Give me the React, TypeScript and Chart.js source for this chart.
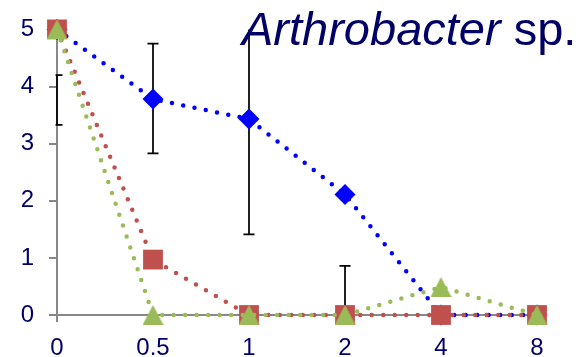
import React, { useEffect, useRef } from 'react';
import { Chart, registerables } from 'chart.js';

Chart.register(...registerables);

const categories = ['0', '0.5', '1', '2', '4', '8'];
const blueValues = [5, 3.78, 3.43, 2.11, 0, 0];
const redValues = [5, 0.97, 0, 0, 0, 0];
const greenValues = [5, 0, 0, 0, 0.49, 0];
const errLow: (number | null)[] = [3.33, 2.83, 1.41, 0, null, null];
const errHigh: (number | null)[] = [4.2, 4.75, 5.45, 0.86, null, null];
const titleItalic = 'Arthrobacter';
const titleRest = ' sp.';

const NAVY = '#000066';
const AXIS = '#888888';
const FONT = '"Liberation Sans", Arial, sans-serif';

function makeTriangle(w: number, h: number, color: string) {
  const c = document.createElement('canvas');
  c.width = w;
  c.height = h;
  const g = c.getContext('2d')!;
  g.fillStyle = color;
  g.beginPath();
  g.moveTo(w / 2, 0);
  g.lineTo(w, h);
  g.lineTo(0, h);
  g.closePath();
  g.fill();
  return c;
}

const errorBarPlugin = {
  id: 'errorBars',
  beforeDatasetsDraw(chart: any) {
    const { ctx, chartArea, scales } = chart;
    const x = scales.x;
    const y = scales.y;
    ctx.save();
    ctx.beginPath();
    ctx.rect(chartArea.left - 1.5, chartArea.top, chartArea.right - chartArea.left + 3, chartArea.bottom - chartArea.top);
    ctx.clip();
    ctx.strokeStyle = '#000000';
    ctx.lineWidth = 1.75;
    errLow.forEach((lo, i) => {
      const hi = errHigh[i];
      if (lo == null || hi == null) return;
      const px = x.getPixelForValue(i);
      const y1 = y.getPixelForValue(lo);
      const y2 = y.getPixelForValue(hi);
      ctx.beginPath();
      ctx.moveTo(px, y1);
      ctx.lineTo(px, y2);
      ctx.moveTo(px - 5.5, y1);
      ctx.lineTo(px + 5.5, y1);
      ctx.moveTo(px - 5.5, y2);
      ctx.lineTo(px + 5.5, y2);
      ctx.stroke();
    });
    ctx.restore();
  },
};

const titlePlugin = {
  id: 'customTitle',
  afterDraw(chart: any) {
    const ctx = chart.ctx;
    ctx.save();
    ctx.fillStyle = NAVY;
    ctx.textBaseline = 'alphabetic';
    ctx.textAlign = 'left';
    ctx.font = `italic 47px ${FONT}`;
    const x0 = 242;
    const base = 45;
    ctx.fillText(titleItalic, x0, base);
    const w = ctx.measureText(titleItalic).width;
    ctx.font = `47px ${FONT}`;
    ctx.fillText(titleRest, x0 + w, base);
    ctx.restore();
  },
};

export default function App() {
  const ref = useRef<HTMLCanvasElement>(null);

  useEffect(() => {
    document.body.style.margin = '0';
    if (!ref.current) return;
    const tri = makeTriangle(21, 20, '#9BBB59');
    const chart = new Chart(ref.current, {
      type: 'line',
      data: {
        labels: categories,
        datasets: [
          {
            label: 'blue',
            data: blueValues,
            order: 3,
            borderColor: '#0000FF',
            backgroundColor: '#0000FF',
            borderWidth: 4.5,
            borderDash: [0, 11.5],
            borderCapStyle: 'round',
            tension: 0,
            fill: false,
            pointStyle: 'rectRot',
            pointRadius: 10.5,
            pointBorderWidth: 0,
            pointBackgroundColor: '#0000FF',
            clip: false as any,
          },
          {
            label: 'red',
            data: redValues,
            order: 2,
            borderColor: '#C0504D',
            backgroundColor: '#C0504D',
            borderWidth: 4.5,
            borderDash: [0, 11.5],
            borderCapStyle: 'round',
            tension: 0,
            fill: false,
            pointStyle: 'rect',
            pointRadius: 14,
            pointBorderWidth: 0,
            pointBackgroundColor: '#C0504D',
            clip: false as any,
          },
          {
            label: 'green',
            data: greenValues,
            order: 1,
            borderColor: '#9BBB59',
            backgroundColor: '#9BBB59',
            borderWidth: 4.5,
            borderDash: [0, 11.5],
            borderCapStyle: 'round',
            tension: 0,
            fill: false,
            pointStyle: tri as any,
            pointRadius: 10,
            pointBorderWidth: 0,
            clip: false as any,
          },
        ],
      },
      options: {
        responsive: false,
        animation: false,
        layout: { padding: { top: 27, right: 47, left: 0, bottom: 0 } },
        plugins: {
          legend: { display: false },
          tooltip: { enabled: false },
          title: { display: false },
        },
        scales: {
          x: {
            type: 'category',
            offset: false,
            grid: {
              drawOnChartArea: false,
              drawTicks: true,
              tickLength: 7,
              lineWidth: 2,
              color: (c: any) => (c.index === 0 ? AXIS : 'rgba(0,0,0,0)'),
            },
            border: { display: true, color: AXIS, width: 2 },
            ticks: {
              color: NAVY,
              font: { size: 24, family: FONT },
              padding: 12,
              maxRotation: 0,
              autoSkip: false,
            },
            afterFit: (s: any) => {
              s.height = 42;
            },
          },
          y: {
            min: 0,
            max: 5,
            grid: {
              drawOnChartArea: false,
              drawTicks: true,
              tickLength: 8,
              lineWidth: 2,
              color: AXIS,
            },
            border: { display: true, color: AXIS, width: 2 },
            ticks: {
              stepSize: 1,
              color: NAVY,
              font: { size: 24, family: FONT },
              padding: 15,
            },
            afterFit: (s: any) => {
              s.width = 57;
            },
          },
        },
      },
      plugins: [errorBarPlugin, titlePlugin],
    });
    return () => chart.destroy();
  }, []);

  return (
    <div style={{ width: 584, height: 357 }}>
      <canvas ref={ref} width={584} height={357} style={{ display: 'block' }} />
    </div>
  );
}
